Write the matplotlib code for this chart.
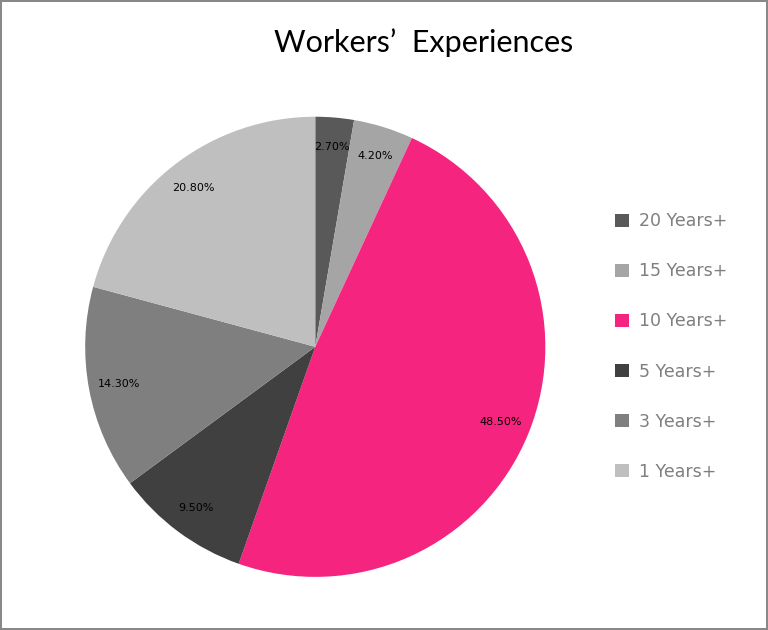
import matplotlib
matplotlib.use("Agg")
import matplotlib.pyplot as plt
from matplotlib.patches import Patch

labels = ["20 Years+", "15 Years+", "10 Years+", "5 Years+", "3 Years+", "1 Years+"]
values = [2.7, 4.2, 48.5, 9.5, 14.3, 20.8]
colors = ["#595959", "#a5a5a5", "#f5247f", "#404040", "#7f7f7f", "#bfbfbf"]

fig = plt.figure(figsize=(7.68, 6.3), dpi=100)
fig.patch.set_edgecolor("#888888")
fig.patch.set_linewidth(1.5)

ax = fig.add_axes([0.036, -0.007, 0.749, 0.913])
wedges, _, autotexts = ax.pie(values, colors=colors, startangle=90, counterclock=False,
                              autopct=lambda p: "%.2f%%" % p, pctdistance=0.87,
                              wedgeprops=dict(linewidth=0),
                              textprops=dict(fontsize=8, color="black"))
ax.set_aspect("equal")

fig.text(0.552, 0.933, "Workers\u2019  Experiences", ha="center", va="center",
         fontsize=22, family="Lato")

handles = [Patch(facecolor=c, label=l) for c, l in zip(colors, labels)]
leg = fig.legend(handles=handles, loc="center left", bbox_to_anchor=(0.78, 0.45),
                 frameon=False, fontsize=12.5, labelspacing=1.85,
                 handlelength=0.8, handleheight=0.8, handletextpad=0.6)
for t in leg.get_texts():
    t.set_color("#7f7f7f")

fig.savefig("out.png", dpi=100, edgecolor=fig.get_edgecolor())
